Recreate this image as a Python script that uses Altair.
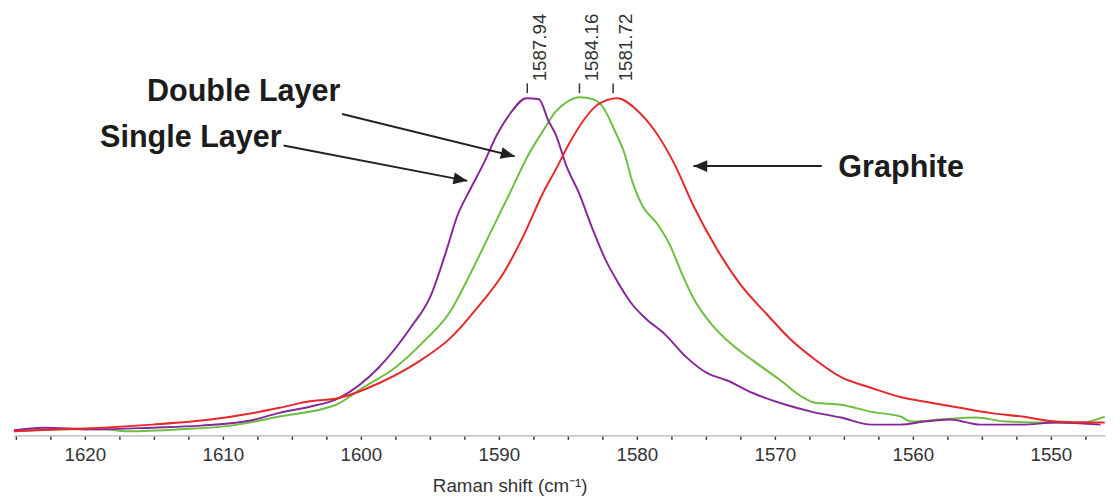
import altair as alt
import pandas as pd

# ---- spectra (Raman shift in cm^-1, normalised intensity) ----
single_shift = [1625.14, 1623.0, 1619.4, 1615.1, 1611.6, 1608.0, 1605.9, 1603.7, 1601.6, 1598.7,
                1596.4, 1594.9, 1593.9, 1593.0, 1592.1, 1591.1, 1590.1, 1589.2, 1588.0, 1587.1,
                1586.4, 1585.9, 1585.1, 1584.2, 1583.2, 1582.3, 1581.4, 1580.4, 1579.4, 1578.0,
                1576.4, 1574.9, 1573.5, 1571.6, 1569.2, 1567.3, 1565.2, 1563.0, 1560.9, 1559.2,
                1557.3, 1555.1, 1552.1, 1549.6, 1546.4]
single_int = [0.015, 0.023, 0.018, 0.023, 0.029, 0.044, 0.067, 0.085, 0.111, 0.202,
              0.320, 0.419, 0.537, 0.654, 0.730, 0.809, 0.897, 0.956, 1.003, 1.000,
              0.935, 0.897, 0.801, 0.721, 0.613, 0.525, 0.457, 0.393, 0.349, 0.302,
              0.232, 0.185, 0.164, 0.126, 0.091, 0.070, 0.053, 0.032, 0.032, 0.041,
              0.047, 0.032, 0.032, 0.038, 0.032]

double_shift = [1625.14, 1621.6, 1618.7, 1616.9, 1613.0, 1609.4, 1605.9, 1601.8, 1599.9, 1597.5,
                1595.6, 1593.5, 1592.1, 1590.6, 1589.2, 1587.8, 1586.8, 1585.9, 1585.1, 1584.1,
                1583.2, 1582.5, 1581.6, 1580.9, 1580.3, 1579.6, 1578.5, 1577.6, 1576.8, 1575.9,
                1574.6, 1573.2, 1571.6, 1569.6, 1568.0, 1567.1, 1565.2, 1563.0, 1560.9, 1560.1,
                1558.0, 1555.4, 1553.2, 1549.6, 1547.8, 1546.1]
double_int = [0.012, 0.018, 0.018, 0.012, 0.018, 0.029, 0.056, 0.091, 0.141, 0.202,
              0.273, 0.370, 0.478, 0.604, 0.721, 0.839, 0.906, 0.962, 0.991, 1.006,
              1.000, 0.979, 0.906, 0.839, 0.751, 0.683, 0.628, 0.566, 0.487, 0.408,
              0.331, 0.273, 0.223, 0.164, 0.114, 0.097, 0.091, 0.070, 0.056, 0.041,
              0.047, 0.053, 0.041, 0.038, 0.038, 0.056]

graphite_shift = [1625.14, 1621.6, 1618.7, 1615.1, 1610.9, 1608.0, 1605.9, 1603.9, 1601.6, 1598.7,
                  1595.9, 1593.5, 1591.6, 1589.6, 1588.2, 1586.8, 1585.9, 1584.9, 1583.9, 1582.8,
                  1581.4, 1580.1, 1578.7, 1577.3, 1575.9, 1574.2, 1572.5, 1570.6, 1568.7, 1567.3,
                  1565.2, 1563.0, 1560.9, 1558.7, 1556.6, 1554.4, 1552.1, 1549.6, 1547.3, 1546.1]
graphite_int = [0.012, 0.018, 0.023, 0.032, 0.047, 0.065, 0.082, 0.100, 0.111, 0.155,
                0.217, 0.290, 0.378, 0.487, 0.595, 0.721, 0.789, 0.868, 0.935, 0.985,
                1.003, 0.971, 0.906, 0.809, 0.683, 0.554, 0.449, 0.361, 0.279, 0.232,
                0.173, 0.141, 0.114, 0.097, 0.082, 0.067, 0.056, 0.041, 0.038, 0.038]

series_names = ["Double Layer", "Single Layer", "Graphite"]
series_colors = ["#6cbf3f", "#86289a", "#e8272b"]

# ---- peak markers ----
peak_values = [1587.94, 1584.16, 1581.72]
peak_labels = ["1587.94", "1584.16", "1581.72"]
peak_tick_low = [1.018, 1.018, 1.018]
peak_tick_high = [1.047, 1.047, 1.047]
peak_label_y = [1.053, 1.053, 1.053]

# ---- annotations ----
ann_text = ["Double Layer", "Single Layer", "Graphite"]
ann_x = [1615.5, 1618.9, 1565.4]
ann_y = [1.02, 0.883, 0.795]
arrow_x1 = [1601.36, 1605.6, 1566.6]
arrow_y1 = [0.956, 0.862, 0.801]
arrow_x2 = [1588.86, 1592.29, 1575.9]
arrow_y2 = [0.830, 0.757, 0.801]
arrow_angle = [13.8, 10.5, 180.0]

tick_values = [1547.5, 1550, 1552.5, 1555, 1557.5, 1560, 1562.5, 1565, 1567.5, 1570,
               1572.5, 1575, 1577.5, 1580, 1582.5, 1585, 1587.5, 1590, 1592.5, 1595,
               1597.5, 1600, 1602.5, 1605, 1607.5, 1610, 1612.5, 1615, 1617.5, 1620,
               1622.5, 1625]

FONT = "Liberation Sans"

x_scale = alt.Scale(domain=[1546.07, 1625.14], reverse=True, nice=False, zero=False)
y_scale = alt.Scale(domain=[0, 1.249], nice=False, zero=False)

x_axis = alt.Axis(
    values=tick_values,
    labelExpr="datum.value % 10 === 0 ? datum.label : ''",
    format="d",
    labelFont=FONT, labelFontSize=19, labelColor="#333333",
    labelPadding=6, labelOverlap=False, labelFlush=False,
    tickColor="#333333", tickSize=4, tickWidth=1.5,
    domainColor="#c8c8c8", domainWidth=2,
    grid=False,
    title="Raman shift (cm⁻¹)",
    titleFont=FONT, titleFontSize=19, titleFontWeight="normal", titleColor="#333333",
    titlePadding=13, titleX=503, titleAlign="center",
)


def xenc(field="shift"):
    return alt.X(f"{field}:Q", scale=x_scale, axis=x_axis)


def yenc(field="intensity"):
    return alt.Y(f"{field}:Q", scale=y_scale, axis=None)


layers = []
for name, xs, ys, col in zip(series_names,
                             [double_shift, single_shift, graphite_shift],
                             [double_int, single_int, graphite_int],
                             series_colors):
    df = pd.DataFrame({"shift": xs, "intensity": ys, "series": name})
    layers.append(
        alt.Chart(df).mark_line(color=col, strokeWidth=2, interpolate="monotone").encode(
            x=xenc(), y=yenc())
    )

peaks = pd.DataFrame({"shift": peak_values, "label": peak_labels,
                      "lo": peak_tick_low, "hi": peak_tick_high, "ly": peak_label_y})
peak_ticks = alt.Chart(peaks).mark_rule(color="#333333", strokeWidth=1.5).encode(
    x=xenc(), y=yenc("lo"), y2="hi:Q")
peak_text = alt.Chart(peaks).mark_text(
    angle=270, align="left", baseline="middle", dy=13,
    font=FONT, fontSize=19, color="#333333").encode(
    x=xenc(), y=yenc("ly"), text="label:N")

ann = pd.DataFrame({"shift": ann_x, "intensity": ann_y, "text": ann_text})
ann_marks = alt.Chart(ann).mark_text(
    align="left", baseline="middle", font=FONT, fontSize=31, fontWeight="bold",
    color="#1c1c1c").encode(x=xenc(), y=yenc(), text="text:N")

arrows = pd.DataFrame({"shift": arrow_x1, "intensity": arrow_y1,
                       "x2": arrow_x2, "y2": arrow_y2, "angle": arrow_angle})
arrow_lines = alt.Chart(arrows).mark_rule(color="#222222", strokeWidth=2).encode(
    x=xenc(), y=yenc(), x2="x2:Q", y2="y2:Q")
arrow_heads = alt.Chart(arrows).mark_point(
    shape="M -2 -0.86 L 0 0 L -2 0.86 Z", size=196, filled=True,
    color="#222222", opacity=1, strokeWidth=0).encode(
    x=xenc("x2"), y=yenc("y2"), angle=alt.Angle("angle:Q", scale=None))

chart = alt.layer(*layers, peak_ticks, peak_text, arrow_lines, arrow_heads, ann_marks).properties(
    width=1107, height=426,
    padding={"left": 2, "top": 2, "right": 3, "bottom": 2},
    background="white",
).configure_view(stroke=None)

chart.save("out.html", embed_options={"renderer": "svg", "actions": False})
